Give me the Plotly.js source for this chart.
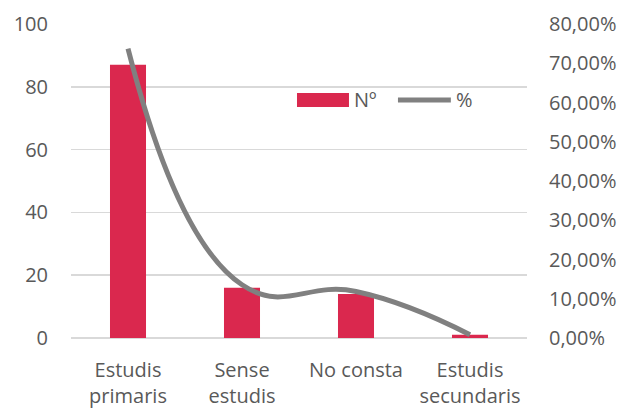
<!DOCTYPE html>
<html>
<head>
<meta charset="utf-8">
<script src="https://cdn.plot.ly/plotly-3.0.1.min.js"></script>
<style>html,body{margin:0;padding:0;background:#fff;}#chart{width:623px;height:408px;}</style>
</head>
<body>
<div id="chart"></div>
<script>
var categories = ['Estudis<br>primaris', 'Sense<br>estudis', 'No consta', 'Estudis<br>secundaris'];
var counts = [87, 16, 14, 1];
var percents = [0.7373, 0.1356, 0.1186, 0.0085];
var leftTicks = [0, 20, 40, 60, 80, 100];
var rightTicks = [0, 0.1, 0.2, 0.3, 0.4, 0.5, 0.6, 0.7, 0.8];
var seriesNames = ['Nº', '%'];

var barColor = '#DA284E';
var lineColor = '#808080';
var font = {family: '"Open Sans", "Noto Sans", sans-serif', size: 20, color: '#595959'};

var data = [
  {type: 'bar', name: seriesNames[0], x: categories, y: counts,
   marker: {color: barColor}, hoverinfo: 'none', showlegend: false},
  {type: 'scatter', mode: 'lines', name: seriesNames[1], x: categories, y: percents, yaxis: 'y2',
   line: {color: lineColor, width: 5, shape: 'spline', smoothing: 1.3}, hoverinfo: 'none', showlegend: false}
];

var layout = {
  width: 623, height: 408,
  margin: {l: 71, r: 96, t: 24, b: 70},
  paper_bgcolor: '#ffffff', plot_bgcolor: '#ffffff',
  font: font,
  separators: ',.',
  bargap: 0.684,
  showlegend: false,
  xaxis: {type: 'category', showgrid: false, zeroline: false, showline: false,
          ticks: '', tickfont: font, ticklabelstandoff: 18, fixedrange: true},
  yaxis: {range: [0, 100], tickvals: leftTicks, showgrid: true, gridcolor: '#d9d9d9', gridwidth: 1.5,
          zeroline: true, zerolinecolor: '#d9d9d9', zerolinewidth: 1.5, showline: false,
          ticks: '', tickfont: font, ticklabelstandoff: 22, fixedrange: true},
  yaxis2: {range: [0, 0.8], tickvals: rightTicks, tickformat: '.2%', overlaying: 'y', side: 'right',
           showgrid: false, zeroline: false, showline: false, ticks: '', tickfont: font,
           ticklabelstandoff: 21, fixedrange: true},
  shapes: [
    {type: 'rect', xref: 'paper', yref: 'paper', x0: 0.4956, x1: 0.6096, y0: 0.7357, y1: 0.7803,
     fillcolor: barColor, line: {width: 0}},
    {type: 'line', xref: 'paper', yref: 'paper', x0: 0.717, x1: 0.833, y0: 0.758, y1: 0.758,
     line: {color: lineColor, width: 5}}
  ],
  annotations: [
    {xref: 'paper', yref: 'paper', x: 0.616, y: 0.758, xanchor: 'left', yanchor: 'middle',
     text: seriesNames[0], showarrow: false, font: font},
    {xref: 'paper', yref: 'paper', x: 0.840, y: 0.758, xanchor: 'left', yanchor: 'middle',
     text: seriesNames[1], showarrow: false, font: font}
  ]
};

Plotly.newPlot('chart', data, layout, {staticPlot: true, displayModeBar: false});
</script>
</body>
</html>
